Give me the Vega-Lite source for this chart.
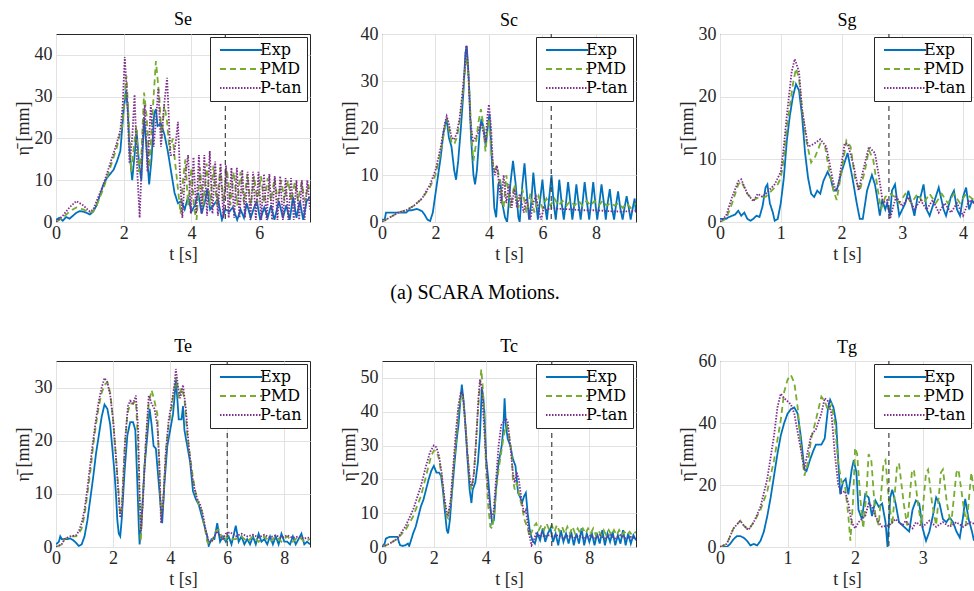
{
"$schema":"https://vega.github.io/schema/vega-lite/v6.json",
"padding":{"left":13,"top":10,"right":0,"bottom":0},
"background":"white",
"datasets":{
"vl":[{"p":"Se","t":5},{"p":"Sc","t":6.33},{"p":"Sg","t":2.78},{"p":"Te","t":6},{"p":"Tc","t":6.55},{"p":"Tg","t":2.5}],
"Se":[{"t":0,"e":0.5,"p":0,"q":0},
{"t":0.1,"e":1},{"t":0.2,"e":0.3},{"t":0.3,"e":1.2},{"t":0.4,"e":0.8},{"t":0.5,"e":1.5},{"t":0.6,"e":2.2},{"t":0.7,"e":2.6},{"t":0.8,"e":2.5},{"t":0.9,"e":2.2},{"t":1.0,"e":1.8},{"t":1.1,"e":2.5},{"t":1.2,"e":4},{"t":1.3,"e":6.5},{"t":1.4,"e":9},{"t":1.5,"e":10.5},{"t":1.6,"e":11.5},{"t":1.7,"e":12.5},{"t":1.8,"e":14.5},{"t":1.9,"e":17},{"t":1.95,"e":22},{"t":2.0,"e":27},{"t":2.07,"e":31.5},{"t":2.12,"e":27},{"t":2.18,"e":16},{"t":2.25,"e":10},{"t":2.32,"e":16},{"t":2.38,"e":22},{"t":2.45,"e":14},{"t":2.52,"e":10},{"t":2.6,"e":25},{"t":2.67,"e":18},{"t":2.75,"e":9},{"t":2.82,"e":15},{"t":2.9,"e":26},{"t":2.95,"e":27},{"t":3.0,"e":23},{"t":3.1,"e":23.5},{"t":3.2,"e":21},{"t":3.3,"e":17},{"t":3.4,"e":12},{"t":3.5,"e":7},{"t":3.6,"e":4.5},{"t":3.7,"e":5},{"t":3.8,"e":3},{"t":3.9,"e":6},{"t":4.0,"e":2.5},{"t":4.1,"e":4},{"t":4.2,"e":7},{"t":4.3,"e":2},{"t":4.4,"e":5},{"t":4.47,"e":8},{"t":4.55,"e":3},{"t":4.65,"e":4},{"t":4.78,"e":5.5},{"t":4.9,"e":0.5},{"t":5.0,"e":3},{"t":5.12,"e":2.5},{"t":5.22,"e":3.5},{"t":5.35,"e":0.5},{"t":5.45,"e":3},{"t":5.55,"e":1},{"t":5.63,"e":4.5},{"t":5.75,"e":1},{"t":5.85,"e":3.5},{"t":5.93,"e":5},{"t":6.03,"e":0.5},{"t":6.15,"e":3.5},{"t":6.25,"e":1},{"t":6.35,"e":4},{"t":6.45,"e":0.5},{"t":6.58,"e":5},{"t":6.7,"e":1},{"t":6.8,"e":4},{"t":6.9,"e":0.5},{"t":7.0,"e":6},{"t":7.1,"e":1},{"t":7.2,"e":5},{"t":7.3,"e":0.5},{"t":7.4,"e":5},{"t":7.5,"e":6},
{"t":0.2,"p":1},{"t":0.4,"p":2.5},{"t":0.6,"p":3.5},{"t":0.8,"p":3},{"t":1.0,"p":2.3},{"t":1.1,"p":2.5},{"t":1.2,"p":4},{"t":1.4,"p":8},{"t":1.6,"p":13},{"t":1.8,"p":18},{"t":1.95,"p":23},{"t":2.03,"p":30},{"t":2.08,"p":35},{"t":2.15,"p":24},{"t":2.22,"p":12},{"t":2.3,"p":18},{"t":2.37,"p":23},{"t":2.45,"p":12},{"t":2.52,"p":16},{"t":2.6,"p":31},{"t":2.68,"p":25},{"t":2.76,"p":13},{"t":2.85,"p":26},{"t":2.95,"p":38.5},{"t":3.05,"p":30},{"t":3.12,"p":20},{"t":3.2,"p":28},{"t":3.28,"p":24},{"t":3.35,"p":17},{"t":3.45,"p":20},{"t":3.52,"p":14},{"t":3.6,"p":8},{"t":3.68,"p":2},{"t":3.75,"p":10},{"t":3.82,"p":15},{"t":3.9,"p":4},{"t":4.0,"p":13},{"t":4.08,"p":3},{"t":4.15,"p":0.5},{"t":4.25,"p":13},{"t":4.35,"p":4},{"t":4.45,"p":14},{"t":4.55,"p":4},{"t":4.65,"p":13.5},{"t":4.75,"p":4},{"t":4.85,"p":13},{"t":4.95,"p":5},{"t":5.05,"p":12.5},{"t":5.15,"p":4},{"t":5.25,"p":12},{"t":5.35,"p":4},{"t":5.45,"p":12},{"t":5.55,"p":4.5},{"t":5.65,"p":11.5},{"t":5.75,"p":4},{"t":5.85,"p":11},{"t":5.95,"p":4.5},{"t":6.05,"p":11},{"t":6.15,"p":4.5},{"t":6.25,"p":10.5},{"t":6.35,"p":5},{"t":6.45,"p":10.5},{"t":6.55,"p":5},{"t":6.65,"p":10},{"t":6.75,"p":5},{"t":6.85,"p":10},{"t":6.95,"p":5},{"t":7.05,"p":9.5},{"t":7.15,"p":5},{"t":7.25,"p":9.5},{"t":7.35,"p":5},{"t":7.45,"p":9},{"t":7.5,"p":7},
{"t":0.2,"q":1.5},{"t":0.4,"q":3.5},{"t":0.6,"q":5},{"t":0.8,"q":4},{"t":1.0,"q":2.5},{"t":1.1,"q":3},{"t":1.2,"q":5},{"t":1.4,"q":9},{"t":1.6,"q":14},{"t":1.8,"q":19},{"t":1.9,"q":22},{"t":1.97,"q":28},{"t":2.03,"q":39.5},{"t":2.1,"q":30},{"t":2.17,"q":14},{"t":2.25,"q":20},{"t":2.32,"q":30.5},{"t":2.4,"q":12},{"t":2.47,"q":1},{"t":2.55,"q":18},{"t":2.62,"q":28},{"t":2.7,"q":12},{"t":2.8,"q":28},{"t":2.88,"q":18},{"t":2.95,"q":24},{"t":3.02,"q":32},{"t":3.1,"q":18},{"t":3.18,"q":27},{"t":3.28,"q":34.5},{"t":3.38,"q":16},{"t":3.48,"q":16},{"t":3.55,"q":20},{"t":3.6,"q":24},{"t":3.68,"q":8},{"t":3.73,"q":1},{"t":3.8,"q":10},{"t":3.9,"q":16},{"t":3.98,"q":2},{"t":4.06,"q":15.5},{"t":4.14,"q":2},{"t":4.22,"q":16},{"t":4.3,"q":2},{"t":4.38,"q":16},{"t":4.46,"q":1.5},{"t":4.54,"q":17},{"t":4.62,"q":2},{"t":4.7,"q":14.5},{"t":4.78,"q":1.5},{"t":4.86,"q":14},{"t":4.94,"q":1},{"t":5.02,"q":13.5},{"t":5.1,"q":1},{"t":5.18,"q":13},{"t":5.26,"q":1},{"t":5.34,"q":13},{"t":5.42,"q":1},{"t":5.5,"q":12.5},{"t":5.58,"q":1},{"t":5.66,"q":12},{"t":5.74,"q":0.5},{"t":5.82,"q":12},{"t":5.9,"q":0.5},{"t":5.98,"q":12},{"t":6.06,"q":0.5},{"t":6.14,"q":11.5},{"t":6.22,"q":0.5},{"t":6.3,"q":11.5},{"t":6.38,"q":0.5},{"t":6.46,"q":11},{"t":6.54,"q":0.5},{"t":6.62,"q":11},{"t":6.7,"q":0.5},{"t":6.78,"q":10.5},{"t":6.86,"q":0.5},{"t":6.94,"q":10.5},{"t":7.02,"q":0.5},{"t":7.1,"q":10},{"t":7.18,"q":0.5},{"t":7.26,"q":10},{"t":7.34,"q":0.5},{"t":7.42,"q":10},{"t":7.5,"q":3}],
"Sc":[{"t":0,"e":0.5,"p":0,"q":0},
{"t":0.1,"e":0.5},{"t":0.15,"e":2},{"t":0.3,"e":2},{"t":0.5,"e":2},{"t":0.7,"e":2},{"t":0.9,"e":2},{"t":1.0,"e":2.5},{"t":1.1,"e":2.5},{"t":1.3,"e":2.8},{"t":1.5,"e":2.3},{"t":1.6,"e":1.5},{"t":1.7,"e":0.5},{"t":1.8,"e":0.2},{"t":1.9,"e":2},{"t":2.0,"e":6},{"t":2.1,"e":10},{"t":2.2,"e":14},{"t":2.3,"e":19},{"t":2.42,"e":22},{"t":2.5,"e":18},{"t":2.6,"e":16},{"t":2.7,"e":11},{"t":2.77,"e":9},{"t":2.85,"e":13},{"t":2.95,"e":20},{"t":3.05,"e":28},{"t":3.12,"e":36},{"t":3.17,"e":37.5},{"t":3.25,"e":30},{"t":3.33,"e":18},{"t":3.42,"e":10},{"t":3.48,"e":8},{"t":3.55,"e":11},{"t":3.65,"e":19},{"t":3.72,"e":22},{"t":3.8,"e":20},{"t":3.88,"e":16},{"t":3.95,"e":20},{"t":4.02,"e":23},{"t":4.12,"e":12},{"t":4.2,"e":3},{"t":4.27,"e":1},{"t":4.35,"e":8},{"t":4.42,"e":9},{"t":4.5,"e":4},{"t":4.6,"e":1},{"t":4.68,"e":0},{"t":4.8,"e":8},{"t":4.9,"e":13},{"t":5.0,"e":8},{"t":5.1,"e":1},{"t":5.15,"e":0},{"t":5.25,"e":8},{"t":5.33,"e":12.5},{"t":5.42,"e":6},{"t":5.5,"e":0.5},{"t":5.58,"e":4},{"t":5.66,"e":10.5},{"t":5.75,"e":5},{"t":5.83,"e":0.5},{"t":5.92,"e":5},{"t":6.0,"e":9},{"t":6.08,"e":4},{"t":6.17,"e":0.5},{"t":6.25,"e":5},{"t":6.34,"e":10},{"t":6.42,"e":4},{"t":6.5,"e":0.5},{"t":6.56,"e":4},{"t":6.63,"e":9},{"t":6.72,"e":4},{"t":6.8,"e":0.5},{"t":6.88,"e":4},{"t":6.96,"e":8.5},{"t":7.05,"e":4},{"t":7.12,"e":0.5},{"t":7.2,"e":4},{"t":7.27,"e":8},{"t":7.35,"e":4},{"t":7.43,"e":0.5},{"t":7.5,"e":4},{"t":7.58,"e":8.5},{"t":7.67,"e":4},{"t":7.75,"e":0.5},{"t":7.82,"e":4},{"t":7.9,"e":8.5},{"t":7.98,"e":4},{"t":8.05,"e":0.5},{"t":8.13,"e":4},{"t":8.21,"e":8},{"t":8.3,"e":4},{"t":8.37,"e":0.5},{"t":8.44,"e":4},{"t":8.52,"e":7},{"t":8.6,"e":3},{"t":8.68,"e":0.5},{"t":8.75,"e":3.5},{"t":8.83,"e":6.5},{"t":8.91,"e":3},{"t":9.0,"e":0.5},{"t":9.07,"e":3},{"t":9.15,"e":5.5},{"t":9.23,"e":3},{"t":9.3,"e":0.5},{"t":9.38,"e":3},{"t":9.45,"e":5},{"t":9.5,"e":2},
{"t":0.3,"p":1},{"t":0.6,"p":2},{"t":0.9,"p":2.5},{"t":1.2,"p":3.5},{"t":1.5,"p":5},{"t":1.8,"p":7.5},{"t":2.0,"p":10},{"t":2.2,"p":15},{"t":2.35,"p":20},{"t":2.42,"p":22},{"t":2.5,"p":20},{"t":2.6,"p":17},{"t":2.7,"p":16.5},{"t":2.8,"p":18},{"t":2.9,"p":21},{"t":3.0,"p":26},{"t":3.1,"p":32},{"t":3.17,"p":35},{"t":3.25,"p":30},{"t":3.35,"p":18},{"t":3.42,"p":13},{"t":3.5,"p":16},{"t":3.6,"p":21},{"t":3.7,"p":24},{"t":3.78,"p":21},{"t":3.87,"p":15},{"t":3.95,"p":20},{"t":4.0,"p":22},{"t":4.1,"p":14},{"t":4.2,"p":11},{"t":4.3,"p":12},{"t":4.4,"p":9},{"t":4.5,"p":4},{"t":4.55,"p":3},{"t":4.65,"p":10},{"t":4.8,"p":3},{"t":4.95,"p":8},{"t":5.1,"p":3},{"t":5.25,"p":7},{"t":5.4,"p":2},{"t":5.55,"p":6},{"t":5.7,"p":2},{"t":5.85,"p":5.5},{"t":6.0,"p":3},{"t":6.15,"p":5},{"t":6.3,"p":3.5},{"t":6.45,"p":5},{"t":6.6,"p":3.5},{"t":6.75,"p":4.5},{"t":6.9,"p":3.5},{"t":7.05,"p":4.5},{"t":7.2,"p":3.5},{"t":7.35,"p":4.5},{"t":7.5,"p":3.5},{"t":7.65,"p":4.5},{"t":7.8,"p":3.5},{"t":7.95,"p":4.5},{"t":8.1,"p":3.5},{"t":8.25,"p":4.5},{"t":8.4,"p":3.5},{"t":8.55,"p":4},{"t":8.7,"p":3.5},{"t":8.85,"p":4},{"t":9.0,"p":3},{"t":9.15,"p":4},{"t":9.3,"p":3},{"t":9.5,"p":4},
{"t":0.3,"q":1},{"t":0.6,"q":2},{"t":0.9,"q":2.5},{"t":1.2,"q":3.5},{"t":1.5,"q":5},{"t":1.8,"q":8},{"t":2.0,"q":11},{"t":2.2,"q":16},{"t":2.35,"q":21},{"t":2.42,"q":22.5},{"t":2.5,"q":21},{"t":2.6,"q":18},{"t":2.7,"q":17.5},{"t":2.8,"q":19},{"t":2.9,"q":22},{"t":3.0,"q":27},{"t":3.1,"q":33},{"t":3.15,"q":37.5},{"t":3.22,"q":33},{"t":3.3,"q":22},{"t":3.4,"q":17},{"t":3.5,"q":18},{"t":3.6,"q":19},{"t":3.7,"q":21},{"t":3.8,"q":19},{"t":3.87,"q":17},{"t":3.95,"q":23},{"t":4.0,"q":25},{"t":4.08,"q":20},{"t":4.15,"q":12},{"t":4.22,"q":10},{"t":4.3,"q":12},{"t":4.38,"q":8},{"t":4.45,"q":4},{"t":4.55,"q":10},{"t":4.65,"q":4},{"t":4.75,"q":8},{"t":4.85,"q":3},{"t":4.95,"q":7},{"t":5.05,"q":3},{"t":5.15,"q":6},{"t":5.3,"q":2},{"t":5.4,"q":5},{"t":5.55,"q":0.5},{"t":5.65,"q":4},{"t":5.75,"q":5.5},{"t":5.85,"q":3},{"t":5.95,"q":0.5},{"t":6.05,"q":3},{"t":6.15,"q":2.5},{"t":6.3,"q":3},{"t":6.6,"q":2.8},{"t":7.0,"q":2.7},{"t":7.5,"q":2.5},{"t":8.0,"q":2.5},{"t":8.5,"q":2.3},{"t":9.0,"q":2.2},{"t":9.5,"q":2.4}],
"Sg":[{"t":0,"e":0.5,"p":0,"q":0},
{"t":0.1,"e":0.5},{"t":0.15,"e":0.8},{"t":0.2,"e":1},{"t":0.25,"e":1.2},{"t":0.3,"e":1.8},{"t":0.35,"e":1},{"t":0.4,"e":1.5},{"t":0.45,"e":0.5},{"t":0.5,"e":0.2},{"t":0.55,"e":0.5},{"t":0.6,"e":1},{"t":0.65,"e":0.8},{"t":0.7,"e":2.5},{"t":0.75,"e":5.5},{"t":0.78,"e":6},{"t":0.82,"e":3},{"t":0.87,"e":1.5},{"t":0.9,"e":0.2},{"t":0.95,"e":0.5},{"t":1.0,"e":3},{"t":1.05,"e":7},{"t":1.1,"e":13},{"t":1.15,"e":17},{"t":1.2,"e":20},{"t":1.25,"e":22},{"t":1.3,"e":21},{"t":1.35,"e":17},{"t":1.4,"e":11},{"t":1.45,"e":7},{"t":1.5,"e":4.5},{"t":1.55,"e":4},{"t":1.6,"e":5},{"t":1.65,"e":4.5},{"t":1.7,"e":6.5},{"t":1.77,"e":8},{"t":1.82,"e":7},{"t":1.87,"e":5},{"t":1.92,"e":5},{"t":2.0,"e":8},{"t":2.1,"e":11},{"t":2.18,"e":7},{"t":2.25,"e":3},{"t":2.3,"e":0.5},{"t":2.35,"e":0.5},{"t":2.42,"e":5},{"t":2.5,"e":7.5},{"t":2.55,"e":6},{"t":2.6,"e":3},{"t":2.63,"e":1},{"t":2.67,"e":3.5},{"t":2.72,"e":2},{"t":2.75,"e":3},{"t":2.8,"e":1},{"t":2.83,"e":5},{"t":2.88,"e":6},{"t":2.92,"e":3},{"t":2.95,"e":1},{"t":3.0,"e":2},{"t":3.05,"e":3},{"t":3.1,"e":5},{"t":3.15,"e":3},{"t":3.2,"e":1},{"t":3.25,"e":4},{"t":3.3,"e":4},{"t":3.35,"e":6},{"t":3.4,"e":2},{"t":3.45,"e":1},{"t":3.55,"e":4},{"t":3.6,"e":5.5},{"t":3.68,"e":2},{"t":3.72,"e":1},{"t":3.8,"e":4},{"t":3.85,"e":5},{"t":3.9,"e":2},{"t":3.95,"e":1},{"t":4.0,"e":4},{"t":4.05,"e":5.5},{"t":4.1,"e":2},{"t":4.15,"e":3.5},{"t":4.18,"e":3},
{"t":0.1,"p":0.5},{"t":0.2,"p":3},{"t":0.3,"p":6},{"t":0.35,"p":6.5},{"t":0.45,"p":4.5},{"t":0.55,"p":3.5},{"t":0.65,"p":4},{"t":0.75,"p":4},{"t":0.85,"p":5},{"t":0.95,"p":6},{"t":1.0,"p":7},{"t":1.05,"p":10},{"t":1.1,"p":15},{"t":1.2,"p":22},{"t":1.25,"p":24.5},{"t":1.3,"p":23},{"t":1.35,"p":18},{"t":1.42,"p":13},{"t":1.5,"p":9.5},{"t":1.57,"p":10.5},{"t":1.65,"p":12.5},{"t":1.73,"p":12},{"t":1.8,"p":8},{"t":1.87,"p":5},{"t":1.92,"p":3.5},{"t":2.0,"p":8},{"t":2.08,"p":13},{"t":2.15,"p":12},{"t":2.22,"p":7},{"t":2.3,"p":5},{"t":2.38,"p":8},{"t":2.45,"p":11.5},{"t":2.52,"p":10},{"t":2.6,"p":5},{"t":2.65,"p":2},{"t":2.72,"p":4},{"t":2.8,"p":4.5},{"t":2.88,"p":4},{"t":2.95,"p":3},{"t":3.05,"p":4.5},{"t":3.15,"p":3},{"t":3.25,"p":4.5},{"t":3.35,"p":3},{"t":3.45,"p":4.5},{"t":3.55,"p":3},{"t":3.65,"p":4.5},{"t":3.75,"p":3},{"t":3.85,"p":4.5},{"t":3.95,"p":3},{"t":4.05,"p":4.5},{"t":4.18,"p":3.5},
{"t":0.1,"q":1},{"t":0.2,"q":4},{"t":0.3,"q":6.5},{"t":0.35,"q":6.8},{"t":0.45,"q":4.5},{"t":0.55,"q":3.3},{"t":0.62,"q":4.5},{"t":0.7,"q":4},{"t":0.8,"q":5},{"t":0.9,"q":6},{"t":1.0,"q":8},{"t":1.05,"q":12},{"t":1.1,"q":17},{"t":1.18,"q":24},{"t":1.23,"q":26},{"t":1.3,"q":24},{"t":1.35,"q":18},{"t":1.45,"q":12},{"t":1.55,"q":12.5},{"t":1.65,"q":13.2},{"t":1.75,"q":12},{"t":1.85,"q":7},{"t":1.9,"q":5},{"t":1.95,"q":6},{"t":2.05,"q":12.5},{"t":2.1,"q":12.5},{"t":2.2,"q":9},{"t":2.28,"q":5},{"t":2.35,"q":8},{"t":2.45,"q":12},{"t":2.55,"q":11},{"t":2.62,"q":7},{"t":2.68,"q":3},{"t":2.75,"q":3.5},{"t":2.8,"q":0.5},{"t":2.85,"q":2.5},{"t":2.9,"q":4},{"t":3.0,"q":2.5},{"t":3.1,"q":4},{"t":3.2,"q":2},{"t":3.3,"q":3.5},{"t":3.4,"q":2},{"t":3.5,"q":3.5},{"t":3.6,"q":1.5},{"t":3.7,"q":3},{"t":3.8,"q":1.5},{"t":3.9,"q":3},{"t":4.0,"q":1},{"t":4.1,"q":3.5},{"t":4.18,"q":3}],
"Te":[{"t":0,"e":0.5,"p":0,"q":0},
{"t":0.1,"e":1},{"t":0.15,"e":2},{"t":0.2,"e":1.5},{"t":0.3,"e":1.5},{"t":0.4,"e":1.5},{"t":0.5,"e":1.6},{"t":0.6,"e":1.3},{"t":0.7,"e":0.8},{"t":0.8,"e":0.2},{"t":0.9,"e":0.5},{"t":1.0,"e":2},{"t":1.1,"e":5},{"t":1.2,"e":9},{"t":1.3,"e":13},{"t":1.4,"e":17.5},{"t":1.5,"e":21},{"t":1.6,"e":24.5},{"t":1.7,"e":26.8},{"t":1.8,"e":26},{"t":1.9,"e":23},{"t":2.0,"e":17},{"t":2.05,"e":14},{"t":2.1,"e":10},{"t":2.15,"e":5},{"t":2.2,"e":2.5},{"t":2.25,"e":2},{"t":2.3,"e":5},{"t":2.4,"e":14},{"t":2.5,"e":21},{"t":2.6,"e":23.5},{"t":2.7,"e":23.5},{"t":2.78,"e":22},{"t":2.85,"e":12},{"t":2.9,"e":4},{"t":2.93,"e":0.5},{"t":3.0,"e":5},{"t":3.1,"e":15},{"t":3.2,"e":21},{"t":3.28,"e":26},{"t":3.35,"e":23},{"t":3.42,"e":19},{"t":3.5,"e":18.5},{"t":3.6,"e":12},{"t":3.68,"e":7},{"t":3.72,"e":4.5},{"t":3.8,"e":12},{"t":3.9,"e":19},{"t":4.0,"e":22},{"t":4.1,"e":25},{"t":4.15,"e":28},{"t":4.2,"e":31.5},{"t":4.25,"e":28},{"t":4.3,"e":24},{"t":4.4,"e":24},{"t":4.45,"e":26.5},{"t":4.5,"e":22},{"t":4.6,"e":19},{"t":4.7,"e":16},{"t":4.8,"e":10.5},{"t":4.9,"e":9},{"t":5.0,"e":8},{"t":5.1,"e":6},{"t":5.2,"e":4},{"t":5.3,"e":2},{"t":5.35,"e":0.2},{"t":5.45,"e":1.5},{"t":5.55,"e":1.5},{"t":5.65,"e":4.5},{"t":5.75,"e":1},{"t":5.85,"e":2},{"t":5.95,"e":1},{"t":6.05,"e":2},{"t":6.15,"e":0.5},{"t":6.3,"e":4},{"t":6.4,"e":1},{"t":6.5,"e":2},{"t":6.6,"e":0.5},{"t":6.7,"e":1.5},{"t":6.8,"e":0.5},{"t":6.9,"e":2},{"t":7.0,"e":0.5},{"t":7.1,"e":2.5},{"t":7.2,"e":1},{"t":7.3,"e":1.5},{"t":7.4,"e":0.5},{"t":7.5,"e":2},{"t":7.6,"e":0.5},{"t":7.7,"e":2},{"t":7.8,"e":0.5},{"t":7.9,"e":2.5},{"t":8.0,"e":1},{"t":8.1,"e":1},{"t":8.2,"e":0.5},{"t":8.3,"e":2},{"t":8.4,"e":0.5},{"t":8.5,"e":1.5},{"t":8.6,"e":2.5},{"t":8.7,"e":0.5},{"t":8.8,"e":1},{"t":8.9,"e":0.5},
{"t":0.2,"p":0.5},{"t":0.3,"p":1.5},{"t":0.5,"p":2},{"t":0.7,"p":2},{"t":0.8,"p":2.5},{"t":0.9,"p":3.5},{"t":1.0,"p":6},{"t":1.1,"p":10},{"t":1.2,"p":14},{"t":1.3,"p":19},{"t":1.4,"p":23},{"t":1.5,"p":26.5},{"t":1.6,"p":29},{"t":1.7,"p":30.5},{"t":1.8,"p":31},{"t":1.9,"p":29},{"t":2.0,"p":24},{"t":2.1,"p":17},{"t":2.2,"p":10},{"t":2.25,"p":6},{"t":2.3,"p":7},{"t":2.4,"p":18},{"t":2.5,"p":25},{"t":2.6,"p":27},{"t":2.7,"p":27},{"t":2.8,"p":27.5},{"t":2.87,"p":20},{"t":2.93,"p":8},{"t":2.97,"p":1},{"t":3.05,"p":10},{"t":3.15,"p":20},{"t":3.25,"p":27},{"t":3.35,"p":29.5},{"t":3.45,"p":27.5},{"t":3.55,"p":25},{"t":3.62,"p":15},{"t":3.68,"p":6},{"t":3.75,"p":8},{"t":3.85,"p":18},{"t":3.95,"p":23},{"t":4.05,"p":26},{"t":4.15,"p":30},{"t":4.22,"p":32},{"t":4.3,"p":28},{"t":4.4,"p":30},{"t":4.5,"p":28},{"t":4.6,"p":21},{"t":4.7,"p":17},{"t":4.8,"p":13},{"t":4.9,"p":10},{"t":5.0,"p":8},{"t":5.1,"p":7},{"t":5.2,"p":4},{"t":5.3,"p":1},{"t":5.4,"p":0.5},{"t":5.5,"p":1.5},{"t":5.6,"p":3},{"t":5.7,"p":3.3},{"t":5.8,"p":2},{"t":5.9,"p":1},{"t":6.0,"p":2},{"t":6.1,"p":1.5},{"t":6.3,"p":1.5},{"t":6.5,"p":2},{"t":6.7,"p":1},{"t":6.9,"p":2},{"t":7.1,"p":1},{"t":7.3,"p":2},{"t":7.5,"p":1},{"t":7.7,"p":2},{"t":7.9,"p":1},{"t":8.1,"p":2},{"t":8.3,"p":1},{"t":8.5,"p":2},{"t":8.7,"p":1},{"t":8.9,"p":1.5},
{"t":0.2,"q":0.5},{"t":0.3,"q":1.5},{"t":0.5,"q":2},{"t":0.7,"q":2.2},{"t":0.8,"q":3},{"t":0.9,"q":4.5},{"t":1.0,"q":7},{"t":1.1,"q":11},{"t":1.2,"q":15.5},{"t":1.3,"q":20},{"t":1.4,"q":24},{"t":1.5,"q":27.5},{"t":1.6,"q":30},{"t":1.7,"q":31.8},{"t":1.8,"q":31},{"t":1.9,"q":28.5},{"t":2.0,"q":24},{"t":2.1,"q":17},{"t":2.2,"q":9},{"t":2.25,"q":5.5},{"t":2.32,"q":8},{"t":2.42,"q":20},{"t":2.52,"q":26.5},{"t":2.6,"q":27.5},{"t":2.7,"q":27},{"t":2.8,"q":28.5},{"t":2.88,"q":22},{"t":2.93,"q":10},{"t":2.98,"q":3},{"t":3.05,"q":9},{"t":3.15,"q":20},{"t":3.25,"q":28.5},{"t":3.35,"q":27},{"t":3.45,"q":26},{"t":3.55,"q":23},{"t":3.62,"q":16},{"t":3.68,"q":4.5},{"t":3.75,"q":8},{"t":3.85,"q":18},{"t":3.95,"q":24},{"t":4.05,"q":27},{"t":4.15,"q":30.5},{"t":4.2,"q":33.5},{"t":4.28,"q":30},{"t":4.35,"q":28},{"t":4.45,"q":30.5},{"t":4.55,"q":26},{"t":4.65,"q":19},{"t":4.75,"q":14},{"t":4.85,"q":11},{"t":4.95,"q":9},{"t":5.05,"q":8},{"t":5.15,"q":6},{"t":5.25,"q":3},{"t":5.35,"q":1},{"t":5.45,"q":1},{"t":5.55,"q":2},{"t":5.65,"q":3},{"t":5.75,"q":2},{"t":5.85,"q":1.5},{"t":5.95,"q":2.5},{"t":6.1,"q":2.8},{"t":6.3,"q":2},{"t":6.5,"q":2.5},{"t":6.7,"q":2},{"t":6.9,"q":2.3},{"t":7.1,"q":1.8},{"t":7.3,"q":2.3},{"t":7.5,"q":1.8},{"t":7.7,"q":2.2},{"t":7.9,"q":1.7},{"t":8.1,"q":2.2},{"t":8.3,"q":1.7},{"t":8.5,"q":2},{"t":8.7,"q":1.6},{"t":8.9,"q":1.8}],
"Tc":[{"t":0,"e":0,"p":0,"q":0},
{"t":0.1,"e":1},{"t":0.15,"e":2.5},{"t":0.3,"e":3},{"t":0.5,"e":3},{"t":0.6,"e":3},{"t":0.65,"e":1.5},{"t":0.7,"e":0.5},{"t":0.8,"e":0.3},{"t":0.9,"e":0.5},{"t":1.0,"e":1},{"t":1.05,"e":0.3},{"t":1.1,"e":1.5},{"t":1.2,"e":4},{"t":1.3,"e":6},{"t":1.4,"e":9},{"t":1.5,"e":12},{"t":1.6,"e":14},{"t":1.7,"e":17},{"t":1.8,"e":20},{"t":1.9,"e":22.5},{"t":2.0,"e":24},{"t":2.05,"e":23},{"t":2.1,"e":22},{"t":2.2,"e":22},{"t":2.28,"e":21},{"t":2.35,"e":17},{"t":2.42,"e":11},{"t":2.5,"e":5},{"t":2.55,"e":4},{"t":2.62,"e":8},{"t":2.7,"e":16},{"t":2.8,"e":25},{"t":2.9,"e":33},{"t":2.95,"e":36},{"t":3.02,"e":43},{"t":3.08,"e":48},{"t":3.15,"e":43},{"t":3.2,"e":38},{"t":3.3,"e":26},{"t":3.38,"e":17},{"t":3.45,"e":13},{"t":3.5,"e":17},{"t":3.6,"e":19},{"t":3.7,"e":25},{"t":3.78,"e":33},{"t":3.85,"e":47},{"t":3.9,"e":45},{"t":3.95,"e":40},{"t":4.02,"e":26},{"t":4.1,"e":20},{"t":4.18,"e":12},{"t":4.25,"e":7},{"t":4.32,"e":8},{"t":4.4,"e":17},{"t":4.5,"e":25},{"t":4.55,"e":27},{"t":4.62,"e":30},{"t":4.68,"e":35},{"t":4.73,"e":44},{"t":4.78,"e":36},{"t":4.85,"e":32},{"t":4.95,"e":30},{"t":5.05,"e":26},{"t":5.15,"e":24},{"t":5.25,"e":16},{"t":5.32,"e":15},{"t":5.4,"e":13},{"t":5.48,"e":15},{"t":5.55,"e":16},{"t":5.62,"e":10},{"t":5.7,"e":5},{"t":5.8,"e":2},{"t":5.9,"e":1},{"t":6.0,"e":4},{"t":6.1,"e":2},{"t":6.2,"e":5.5},{"t":6.3,"e":1.5},{"t":6.4,"e":4},{"t":6.5,"e":5.5},{"t":6.6,"e":1.5},{"t":6.7,"e":4},{"t":6.8,"e":0.5},{"t":6.9,"e":5},{"t":7.0,"e":1.5},{"t":7.1,"e":4},{"t":7.2,"e":1},{"t":7.3,"e":4.5},{"t":7.4,"e":0.5},{"t":7.5,"e":4},{"t":7.6,"e":1},{"t":7.7,"e":5.5},{"t":7.8,"e":0.5},{"t":7.9,"e":4},{"t":8.0,"e":1.5},{"t":8.1,"e":4},{"t":8.2,"e":0.5},{"t":8.3,"e":4},{"t":8.4,"e":1},{"t":8.5,"e":5},{"t":8.6,"e":0.5},{"t":8.7,"e":4},{"t":8.8,"e":1.5},{"t":8.9,"e":4.5},{"t":9.0,"e":0.5},{"t":9.1,"e":3.5},{"t":9.2,"e":1},{"t":9.3,"e":5},{"t":9.4,"e":0.5},{"t":9.5,"e":4},{"t":9.6,"e":1},{"t":9.7,"e":3.5},{"t":9.8,"e":2},
{"t":0.3,"p":1},{"t":0.6,"p":2.5},{"t":0.9,"p":5},{"t":1.2,"p":9},{"t":1.5,"p":15},{"t":1.7,"p":21},{"t":1.9,"p":27},{"t":2.0,"p":28.5},{"t":2.1,"p":28.5},{"t":2.2,"p":26},{"t":2.3,"p":21},{"t":2.4,"p":14},{"t":2.5,"p":9},{"t":2.55,"p":8.5},{"t":2.65,"p":13},{"t":2.75,"p":22},{"t":2.85,"p":31},{"t":2.95,"p":40},{"t":3.05,"p":45},{"t":3.12,"p":44},{"t":3.2,"p":38},{"t":3.3,"p":28},{"t":3.38,"p":20},{"t":3.45,"p":17},{"t":3.55,"p":22},{"t":3.62,"p":30},{"t":3.7,"p":40},{"t":3.78,"p":48},{"t":3.83,"p":52.5},{"t":3.88,"p":48},{"t":3.95,"p":38},{"t":4.02,"p":22},{"t":4.1,"p":12},{"t":4.18,"p":6},{"t":4.25,"p":5.5},{"t":4.32,"p":9},{"t":4.42,"p":18},{"t":4.5,"p":23},{"t":4.6,"p":28},{"t":4.68,"p":32},{"t":4.75,"p":35},{"t":4.82,"p":36},{"t":4.9,"p":33},{"t":5.0,"p":28},{"t":5.05,"p":20},{"t":5.12,"p":17},{"t":5.2,"p":19},{"t":5.3,"p":15},{"t":5.4,"p":12},{"t":5.5,"p":8},{"t":5.6,"p":6},{"t":5.7,"p":3},{"t":5.78,"p":4.5},{"t":5.85,"p":6},{"t":5.95,"p":7},{"t":6.05,"p":5},{"t":6.15,"p":6.5},{"t":6.25,"p":5},{"t":6.35,"p":7},{"t":6.45,"p":5},{"t":6.55,"p":6.5},{"t":6.65,"p":4.5},{"t":6.75,"p":6.5},{"t":6.85,"p":4.5},{"t":6.95,"p":6},{"t":7.05,"p":4},{"t":7.15,"p":6},{"t":7.25,"p":4},{"t":7.35,"p":6},{"t":7.45,"p":4},{"t":7.55,"p":5.5},{"t":7.65,"p":4},{"t":7.75,"p":5.5},{"t":7.85,"p":4},{"t":7.95,"p":5.5},{"t":8.05,"p":4},{"t":8.15,"p":5.5},{"t":8.25,"p":3.5},{"t":8.35,"p":5},{"t":8.45,"p":3.5},{"t":8.55,"p":5},{"t":8.65,"p":3.5},{"t":8.75,"p":5},{"t":8.85,"p":3.5},{"t":8.95,"p":5},{"t":9.05,"p":3.5},{"t":9.15,"p":5},{"t":9.25,"p":3.5},{"t":9.35,"p":4.5},{"t":9.45,"p":3.5},{"t":9.55,"p":4.5},{"t":9.65,"p":3.5},{"t":9.8,"p":4.5},
{"t":0.3,"q":1},{"t":0.6,"q":2.5},{"t":0.9,"q":6},{"t":1.2,"q":11},{"t":1.5,"q":18},{"t":1.7,"q":24},{"t":1.85,"q":28},{"t":2.0,"q":30},{"t":2.1,"q":29.5},{"t":2.2,"q":27},{"t":2.3,"q":22},{"t":2.4,"q":15},{"t":2.5,"q":10},{"t":2.55,"q":9.5},{"t":2.65,"q":14},{"t":2.75,"q":24},{"t":2.85,"q":34},{"t":2.95,"q":42},{"t":3.05,"q":46},{"t":3.12,"q":45},{"t":3.2,"q":38},{"t":3.3,"q":27},{"t":3.4,"q":19},{"t":3.48,"q":18},{"t":3.55,"q":22},{"t":3.65,"q":34},{"t":3.72,"q":44},{"t":3.78,"q":49.5},{"t":3.85,"q":47},{"t":3.92,"q":38},{"t":4.0,"q":28},{"t":4.08,"q":18},{"t":4.15,"q":13},{"t":4.22,"q":9},{"t":4.3,"q":10},{"t":4.4,"q":20},{"t":4.5,"q":30},{"t":4.6,"q":36},{"t":4.7,"q":37},{"t":4.78,"q":38},{"t":4.85,"q":37},{"t":4.95,"q":30},{"t":5.05,"q":22},{"t":5.12,"q":19},{"t":5.2,"q":22},{"t":5.28,"q":20},{"t":5.38,"q":14},{"t":5.48,"q":10},{"t":5.55,"q":11},{"t":5.62,"q":7},{"t":5.7,"q":3},{"t":5.77,"q":0.5},{"t":5.85,"q":2},{"t":5.95,"q":4},{"t":6.05,"q":3},{"t":6.15,"q":4},{"t":6.25,"q":3},{"t":6.4,"q":3.5},{"t":6.6,"q":3},{"t":6.8,"q":3.5},{"t":7.0,"q":2.5},{"t":7.2,"q":3.5},{"t":7.4,"q":2.5},{"t":7.6,"q":3.5},{"t":7.8,"q":2.5},{"t":8.0,"q":3.5},{"t":8.2,"q":2.5},{"t":8.4,"q":3.5},{"t":8.6,"q":2.5},{"t":8.8,"q":3.5},{"t":9.0,"q":2.5},{"t":9.2,"q":3.5},{"t":9.4,"q":2.5},{"t":9.6,"q":3},{"t":9.8,"q":2.5}],
"Tg":[{"t":0,"e":0,"p":0,"q":0},
{"t":0.1,"e":0},{"t":0.15,"e":1},{"t":0.2,"e":2.5},{"t":0.25,"e":3.5},{"t":0.3,"e":3.5},{"t":0.35,"e":3},{"t":0.4,"e":2},{"t":0.45,"e":0.5},{"t":0.5,"e":1},{"t":0.55,"e":0.5},{"t":0.6,"e":2},{"t":0.65,"e":5},{"t":0.7,"e":10},{"t":0.75,"e":16},{"t":0.8,"e":23},{"t":0.85,"e":30},{"t":0.9,"e":36},{"t":0.95,"e":40},{"t":1.0,"e":43},{"t":1.05,"e":44.5},{"t":1.1,"e":45},{"t":1.15,"e":43},{"t":1.2,"e":35},{"t":1.25,"e":25},{"t":1.28,"e":24.5},{"t":1.33,"e":28},{"t":1.38,"e":31},{"t":1.42,"e":33},{"t":1.5,"e":33},{"t":1.55,"e":35},{"t":1.6,"e":45},{"t":1.63,"e":47.5},{"t":1.68,"e":45},{"t":1.72,"e":40},{"t":1.75,"e":28},{"t":1.78,"e":17},{"t":1.82,"e":21},{"t":1.86,"e":22},{"t":1.9,"e":17},{"t":1.95,"e":25},{"t":1.98,"e":28},{"t":2.02,"e":24},{"t":2.05,"e":12},{"t":2.1,"e":9},{"t":2.15,"e":17},{"t":2.2,"e":16},{"t":2.25,"e":10},{"t":2.3,"e":15},{"t":2.35,"e":13},{"t":2.4,"e":14},{"t":2.45,"e":8},{"t":2.48,"e":0},{"t":2.52,"e":16},{"t":2.55,"e":18.5},{"t":2.6,"e":14},{"t":2.65,"e":8},{"t":2.7,"e":7},{"t":2.75,"e":6},{"t":2.8,"e":5},{"t":2.85,"e":12},{"t":2.9,"e":15},{"t":2.95,"e":14},{"t":3.0,"e":6},{"t":3.05,"e":2},{"t":3.1,"e":5},{"t":3.15,"e":10},{"t":3.2,"e":16},{"t":3.25,"e":14},{"t":3.3,"e":9},{"t":3.35,"e":8},{"t":3.4,"e":9.5},{"t":3.45,"e":8},{"t":3.5,"e":5},{"t":3.55,"e":3},{"t":3.6,"e":10},{"t":3.63,"e":15.5},{"t":3.68,"e":9},{"t":3.73,"e":5},{"t":3.76,"e":2},
{"t":0.1,"p":1},{"t":0.2,"p":6},{"t":0.3,"p":8.5},{"t":0.35,"p":7},{"t":0.42,"p":5.5},{"t":0.5,"p":8},{"t":0.6,"p":12},{"t":0.7,"p":18},{"t":0.8,"p":28},{"t":0.9,"p":41},{"t":0.95,"p":50},{"t":1.0,"p":54},{"t":1.05,"p":55.5},{"t":1.1,"p":53},{"t":1.15,"p":45},{"t":1.2,"p":32},{"t":1.25,"p":23},{"t":1.3,"p":27},{"t":1.35,"p":35},{"t":1.42,"p":41},{"t":1.5,"p":48.5},{"t":1.55,"p":47},{"t":1.6,"p":44},{"t":1.65,"p":46},{"t":1.7,"p":40},{"t":1.75,"p":27},{"t":1.8,"p":21},{"t":1.85,"p":20},{"t":1.9,"p":10},{"t":1.93,"p":2},{"t":1.97,"p":15},{"t":2.0,"p":32},{"t":2.03,"p":30},{"t":2.08,"p":15},{"t":2.12,"p":6},{"t":2.17,"p":18},{"t":2.2,"p":30},{"t":2.24,"p":28},{"t":2.3,"p":10},{"t":2.35,"p":7},{"t":2.42,"p":27},{"t":2.45,"p":28},{"t":2.5,"p":15},{"t":2.55,"p":7},{"t":2.62,"p":26},{"t":2.65,"p":27},{"t":2.72,"p":14},{"t":2.77,"p":7},{"t":2.84,"p":24},{"t":2.87,"p":25},{"t":2.93,"p":14},{"t":2.98,"p":7},{"t":3.05,"p":24},{"t":3.08,"p":25},{"t":3.14,"p":14},{"t":3.2,"p":7},{"t":3.27,"p":24},{"t":3.3,"p":25},{"t":3.36,"p":14},{"t":3.42,"p":7},{"t":3.5,"p":24},{"t":3.53,"p":25},{"t":3.6,"p":14},{"t":3.65,"p":7},{"t":3.72,"p":24},{"t":3.76,"p":18},
{"t":0.1,"q":1},{"t":0.2,"q":6},{"t":0.3,"q":8.5},{"t":0.35,"q":7},{"t":0.42,"q":5.5},{"t":0.5,"q":8},{"t":0.6,"q":13},{"t":0.7,"q":22},{"t":0.8,"q":36},{"t":0.85,"q":45},{"t":0.9,"q":49.5},{"t":0.95,"q":48},{"t":1.05,"q":46},{"t":1.1,"q":43},{"t":1.15,"q":37},{"t":1.2,"q":31},{"t":1.25,"q":25},{"t":1.3,"q":31},{"t":1.35,"q":36},{"t":1.42,"q":38},{"t":1.5,"q":43},{"t":1.55,"q":48},{"t":1.6,"q":47},{"t":1.65,"q":43},{"t":1.7,"q":30},{"t":1.75,"q":20},{"t":1.8,"q":17.5},{"t":1.85,"q":18},{"t":1.9,"q":14},{"t":1.95,"q":8},{"t":2.0,"q":6},{"t":2.05,"q":8},{"t":2.1,"q":9},{"t":2.15,"q":10},{"t":2.2,"q":14},{"t":2.25,"q":13},{"t":2.3,"q":10},{"t":2.35,"q":8},{"t":2.4,"q":6.5},{"t":2.5,"q":7},{"t":2.55,"q":8},{"t":2.6,"q":9},{"t":2.65,"q":8},{"t":2.7,"q":7},{"t":2.75,"q":8.5},{"t":2.8,"q":7},{"t":2.85,"q":6},{"t":2.9,"q":8},{"t":3.0,"q":6.5},{"t":3.1,"q":8.5},{"t":3.2,"q":6.5},{"t":3.3,"q":8},{"t":3.4,"q":6.5},{"t":3.5,"q":8},{"t":3.6,"q":6.5},{"t":3.7,"q":8},{"t":3.76,"q":7.5}]
},
"vconcat":[
{"hconcat":[
 {"hconcat":[
  {"title":"Se","width":254,"height":188,"data":{"name":"Se"},"layer":[
   {"transform":[{"fold":["e","p","q"],"as":["k","v"]},{"filter":"isValid(datum.v)"}],"mark":{"type":"line","strokeWidth":1.8,"clip":true},
    "encoding":{"x":{"field":"t","type":"quantitative","scale":{"domain":[0,7.5],"nice":false},"axis":{"values":[0,2,4,6],"format":"d","title":"t [s]"}},
     "y":{"field":"v","type":"quantitative","scale":{"domain":[0,45],"nice":false},"axis":{"values":[0,10,20,30,40],"format":"d","title":"η̄ [mm]"}},
     "color":{"field":"k","type":"nominal","scale":{"domain":["e","p","q"],"range":["#0072BD","#77AC30","#7E2F8E"]},"legend":{"title":null,"labelExpr":"datum.value=='e'?'Exp':datum.value=='p'?'PMD':'P-tan'"}},
     "strokeDash":{"field":"k","type":"nominal","scale":{"domain":["e","p","q"],"range":[[1,0],[6,4],[1.5,1.5]]},"legend":{"title":null,"labelExpr":"datum.value=='e'?'Exp':datum.value=='p'?'PMD':'P-tan'"}}}},
   {"data":{"name":"vl"},"transform":[{"filter":"datum.p=='Se'"}],"mark":{"type":"rule","strokeDash":[5,4],"color":"#404040","strokeWidth":1.2},"encoding":{"x":{"field":"t","type":"quantitative","title":"t [s]"}}}]},
  {"title":{"text":"Sc","offset":-5},"width":254,"height":188,"data":{"name":"Sc"},"layer":[
   {"transform":[{"fold":["e","p","q"],"as":["k","v"]},{"filter":"isValid(datum.v)"}],"mark":{"type":"line","strokeWidth":1.8,"clip":true},
    "encoding":{"x":{"field":"t","type":"quantitative","scale":{"domain":[0,9.5],"nice":false},"axis":{"values":[0,2,4,6,8],"format":"d","title":"t [s]"}},
     "y":{"field":"v","type":"quantitative","scale":{"domain":[0,40],"nice":false},"axis":{"values":[0,10,20,30,40],"format":"d","title":"η̄ [mm]"}},
     "color":{"field":"k","type":"nominal","scale":{"domain":["e","p","q"],"range":["#0072BD","#77AC30","#7E2F8E"]},"legend":{"title":null,"labelExpr":"datum.value=='e'?'Exp':datum.value=='p'?'PMD':'P-tan'"}},
     "strokeDash":{"field":"k","type":"nominal","scale":{"domain":["e","p","q"],"range":[[1,0],[6,4],[1.5,1.5]]},"legend":{"title":null,"labelExpr":"datum.value=='e'?'Exp':datum.value=='p'?'PMD':'P-tan'"}}}},
   {"data":{"name":"vl"},"transform":[{"filter":"datum.p=='Sc'"}],"mark":{"type":"rule","strokeDash":[5,4],"color":"#404040","strokeWidth":1.2},"encoding":{"x":{"field":"t","type":"quantitative","title":"t [s]"}}}]}
 ],"spacing":28,"resolve":{"scale":{"color":"independent","strokeDash":"independent"},"legend":{"color":"independent","strokeDash":"independent"}}},
 {"title":{"text":"Sg","offset":-5},"width":254,"height":188,"data":{"name":"Sg"},"layer":[
   {"transform":[{"fold":["e","p","q"],"as":["k","v"]},{"filter":"isValid(datum.v)"}],"mark":{"type":"line","strokeWidth":1.8,"clip":true},
    "encoding":{"x":{"field":"t","type":"quantitative","scale":{"domain":[0,4.18],"nice":false},"axis":{"values":[0,1,2,3,4],"format":"d","title":"t [s]"}},
     "y":{"field":"v","type":"quantitative","scale":{"domain":[0,30],"nice":false},"axis":{"values":[0,10,20,30],"format":"d","title":"η̄ [mm]"}},
     "color":{"field":"k","type":"nominal","scale":{"domain":["e","p","q"],"range":["#0072BD","#77AC30","#7E2F8E"]},"legend":{"title":null,"labelExpr":"datum.value=='e'?'Exp':datum.value=='p'?'PMD':'P-tan'"}},
     "strokeDash":{"field":"k","type":"nominal","scale":{"domain":["e","p","q"],"range":[[1,0],[6,4],[1.5,1.5]]},"legend":{"title":null,"labelExpr":"datum.value=='e'?'Exp':datum.value=='p'?'PMD':'P-tan'"}}}},
   {"data":{"name":"vl"},"transform":[{"filter":"datum.p=='Sg'"}],"mark":{"type":"rule","strokeDash":[5,4],"color":"#404040","strokeWidth":1.2},"encoding":{"x":{"field":"t","type":"quantitative","title":"t [s]"}}}]}
],"spacing":40,"resolve":{"scale":{"color":"independent","strokeDash":"independent"},"legend":{"color":"independent","strokeDash":"independent"}},
"title":{"text":"(a) SCARA Motions.","orient":"bottom","anchor":"middle","fontSize":20,"offset":19,"dx":-19,"frame":"bounds"}},
{"hconcat":[
 {"hconcat":[
  {"title":"Te","width":254,"height":186,"data":{"name":"Te"},"layer":[
   {"transform":[{"fold":["e","p","q"],"as":["k","v"]},{"filter":"isValid(datum.v)"}],"mark":{"type":"line","strokeWidth":1.8,"clip":true},
    "encoding":{"x":{"field":"t","type":"quantitative","scale":{"domain":[0,8.9],"nice":false},"axis":{"values":[0,2,4,6,8],"format":"d","title":"t [s]"}},
     "y":{"field":"v","type":"quantitative","scale":{"domain":[0,35],"nice":false},"axis":{"values":[0,10,20,30],"format":"d","title":"η̄ [mm]"}},
     "color":{"field":"k","type":"nominal","scale":{"domain":["e","p","q"],"range":["#0072BD","#77AC30","#7E2F8E"]},"legend":{"title":null,"labelExpr":"datum.value=='e'?'Exp':datum.value=='p'?'PMD':'P-tan'"}},
     "strokeDash":{"field":"k","type":"nominal","scale":{"domain":["e","p","q"],"range":[[1,0],[6,4],[1.5,1.5]]},"legend":{"title":null,"labelExpr":"datum.value=='e'?'Exp':datum.value=='p'?'PMD':'P-tan'"}}}},
   {"data":{"name":"vl"},"transform":[{"filter":"datum.p=='Te'"}],"mark":{"type":"rule","strokeDash":[5,4],"color":"#404040","strokeWidth":1.2},"encoding":{"x":{"field":"t","type":"quantitative","title":"t [s]"}}}]},
  {"title":"Tc","width":254,"height":186,"data":{"name":"Tc"},"layer":[
   {"transform":[{"fold":["e","p","q"],"as":["k","v"]},{"filter":"isValid(datum.v)"}],"mark":{"type":"line","strokeWidth":1.8,"clip":true},
    "encoding":{"x":{"field":"t","type":"quantitative","scale":{"domain":[0,9.8],"nice":false},"axis":{"values":[0,2,4,6,8],"format":"d","title":"t [s]"}},
     "y":{"field":"v","type":"quantitative","scale":{"domain":[0,55],"nice":false},"axis":{"values":[0,10,20,30,40,50],"format":"d","title":"η̄ [mm]"}},
     "color":{"field":"k","type":"nominal","scale":{"domain":["e","p","q"],"range":["#0072BD","#77AC30","#7E2F8E"]},"legend":{"title":null,"labelExpr":"datum.value=='e'?'Exp':datum.value=='p'?'PMD':'P-tan'"}},
     "strokeDash":{"field":"k","type":"nominal","scale":{"domain":["e","p","q"],"range":[[1,0],[6,4],[1.5,1.5]]},"legend":{"title":null,"labelExpr":"datum.value=='e'?'Exp':datum.value=='p'?'PMD':'P-tan'"}}}},
   {"data":{"name":"vl"},"transform":[{"filter":"datum.p=='Tc'"}],"mark":{"type":"rule","strokeDash":[5,4],"color":"#404040","strokeWidth":1.2},"encoding":{"x":{"field":"t","type":"quantitative","title":"t [s]"}}}]}
 ],"spacing":28,"resolve":{"scale":{"color":"independent","strokeDash":"independent"},"legend":{"color":"independent","strokeDash":"independent"}}},
 {"title":{"text":"Tg","offset":-5},"width":254,"height":186,"data":{"name":"Tg"},"layer":[
   {"transform":[{"fold":["e","p","q"],"as":["k","v"]},{"filter":"isValid(datum.v)"}],"mark":{"type":"line","strokeWidth":1.8,"clip":true},
    "encoding":{"x":{"field":"t","type":"quantitative","scale":{"domain":[0,3.76],"nice":false},"axis":{"values":[0,1,2,3],"format":"d","title":"t [s]"}},
     "y":{"field":"v","type":"quantitative","scale":{"domain":[0,60],"nice":false},"axis":{"values":[0,20,40,60],"format":"d","title":"η̄ [mm]"}},
     "color":{"field":"k","type":"nominal","scale":{"domain":["e","p","q"],"range":["#0072BD","#77AC30","#7E2F8E"]},"legend":{"title":null,"labelExpr":"datum.value=='e'?'Exp':datum.value=='p'?'PMD':'P-tan'"}},
     "strokeDash":{"field":"k","type":"nominal","scale":{"domain":["e","p","q"],"range":[[1,0],[6,4],[1.5,1.5]]},"legend":{"title":null,"labelExpr":"datum.value=='e'?'Exp':datum.value=='p'?'PMD':'P-tan'"}}}},
   {"data":{"name":"vl"},"transform":[{"filter":"datum.p=='Tg'"}],"mark":{"type":"rule","strokeDash":[5,4],"color":"#404040","strokeWidth":1.2},"encoding":{"x":{"field":"t","type":"quantitative","title":"t [s]"}}}]}
],"spacing":40,"resolve":{"scale":{"color":"independent","strokeDash":"independent"},"legend":{"color":"independent","strokeDash":"independent"}}}
],
"spacing":34,
"resolve":{"scale":{"color":"independent","strokeDash":"independent"},"legend":{"color":"independent","strokeDash":"independent"}},
"config":{
 "font":"Liberation Serif",
 "view":{"stroke":"#262626","strokeWidth":1},
 "axis":{"domain":false,"ticks":false,"grid":true,"gridColor":"#e2e2e2","gridWidth":1,"labelFont":"Liberation Serif","labelFontSize":18,"labelColor":"#262626","labelPadding":4,"labelFlush":false,"labelOverlap":false,"titleFont":"Liberation Serif","titleFontSize":18,"titleFontWeight":"normal","titleColor":"#262626","titlePadding":2},
 "axisX":{"labelPadding":2,"titlePadding":3},
 "title":{"font":"Liberation Serif","fontSize":18,"fontWeight":"normal","color":"#000000","offset":4,"frame":"group"},
 "legend":{"orient":"top-right","offset":3,"fillColor":"white","strokeColor":"#262626","padding":5,"cornerRadius":0,"labelFont":"DejaVu Serif","labelFontSize":16,"labelColor":"#000000","symbolType":"M-4.2,0H4.2","symbolSize":100,"symbolStrokeWidth":2,"symbolOffset":18,"labelOffset":11,"rowPadding":3}
}
}
